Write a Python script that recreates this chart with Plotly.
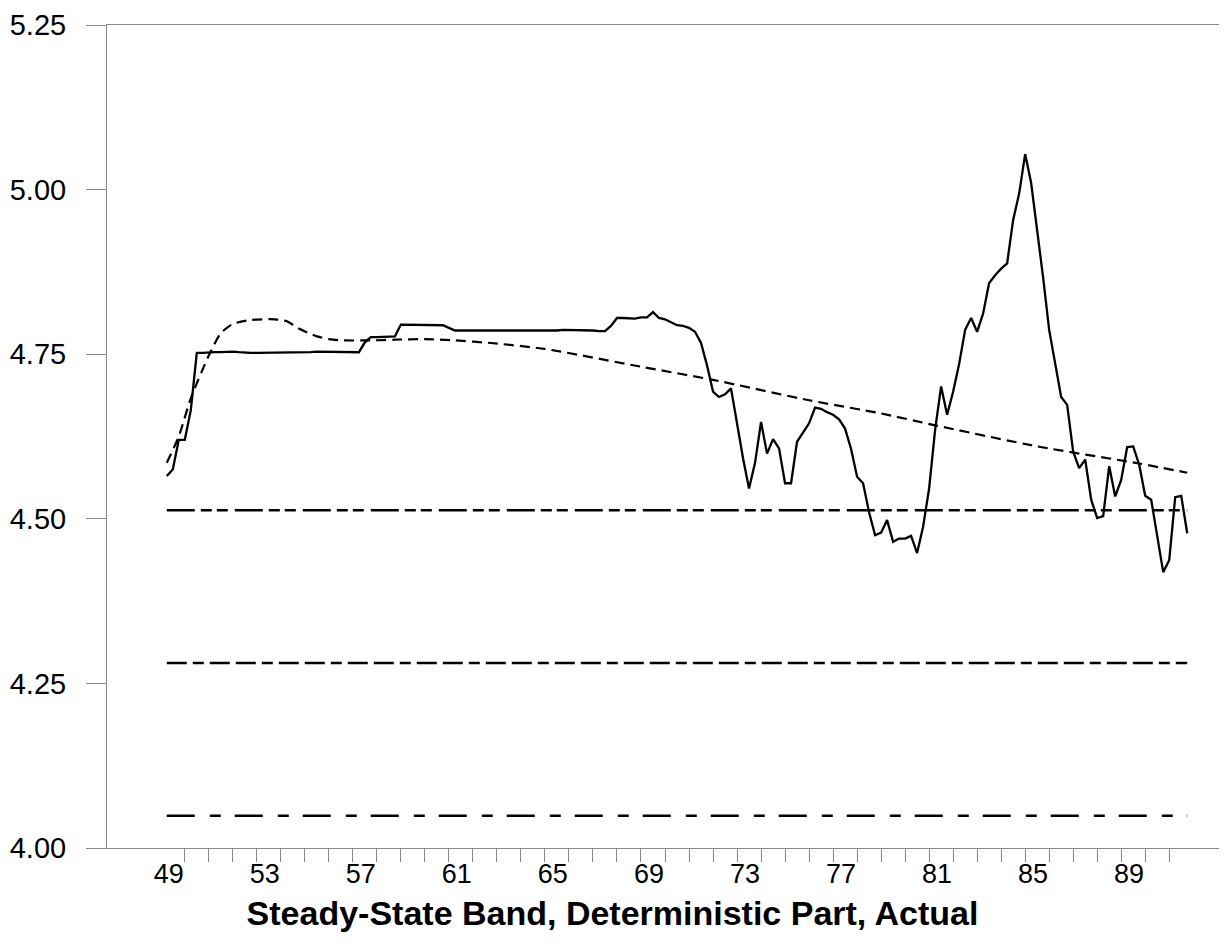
import numpy as np
import plotly.graph_objects as go

# ---- data ----
start_year = 1949.25          # first quarter shown (1949 Q2)
actual = [
    4.565, 4.575, 4.620,
    4.620, 4.665, 4.752, 4.752,
    4.753, 4.753, 4.753, 4.754,
    4.754, 4.753, 4.752, 4.752,
    4.752, 4.752, 4.752, 4.752,
    4.752, 4.752, 4.752, 4.752,
    4.753, 4.753, 4.754, 4.754,
    4.753, 4.753, 4.753, 4.753,
    4.753, 4.753, 4.768, 4.776,
    4.776, 4.776, 4.776, 4.777,
    4.795, 4.795, 4.795, 4.795,
    4.795, 4.795, 4.794, 4.794,
    4.790, 4.786, 4.786, 4.786,
    4.786, 4.786, 4.786, 4.786,
    4.786, 4.786, 4.786, 4.785,
    4.785, 4.785, 4.785, 4.785,
    4.786, 4.786, 4.786, 4.787,
    4.787, 4.787, 4.787, 4.786,
    4.786, 4.785, 4.785, 4.793,
    4.805, 4.805, 4.805, 4.804,
    4.806, 4.806, 4.814, 4.805,
    4.803, 4.799, 4.794, 4.793,
    4.790, 4.784, 4.767, 4.733,
    4.693, 4.685, 4.689, 4.698,
    4.645, 4.592, 4.546, 4.585,
    4.647, 4.599, 4.621, 4.607,
    4.554, 4.554, 4.617, 4.632,
    4.645, 4.669, 4.667, 4.662,
    4.658, 4.651, 4.637, 4.606,
    4.564, 4.554, 4.510, 4.475,
    4.479, 4.498, 4.465, 4.470,
    4.470, 4.474, 4.448, 4.488,
    4.546, 4.635, 4.701, 4.658,
    4.693, 4.735, 4.787, 4.805,
    4.784, 4.812, 4.858, 4.870,
    4.880, 4.888, 4.954, 4.994,
    5.054, 5.010, 4.940, 4.866,
    4.787, 4.736, 4.685, 4.673,
    4.602, 4.577, 4.590, 4.529,
    4.501, 4.504, 4.580, 4.534,
    4.559, 4.609, 4.610, 4.582,
    4.535, 4.529, 4.473, 4.419,
    4.437, 4.533, 4.535, 4.478,
]

trend_dates = [1949.25, 1949.75, 1950.25, 1951.0, 1951.5, 1952.0, 1952.75, 1953.75,
               1954.25, 1954.75, 1955.5, 1956.0, 1956.5, 1957.75, 1958.75, 1960.0,
               1961.25, 1962.75, 1965.0, 1969.0, 1972.0, 1976.0, 1979.0, 1981.25,
               1985.5, 1989.75, 1991.75]
trend_values = [4.585, 4.625, 4.683, 4.748, 4.782, 4.796, 4.802, 4.803,
                4.800, 4.789, 4.777, 4.773, 4.771, 4.771, 4.772, 4.773,
                4.771, 4.767, 4.758, 4.731, 4.711, 4.680, 4.660, 4.642,
                4.610, 4.584, 4.570]

band_upper = 4.513
band_center = 4.281
band_lower = 4.049

tick_years = list(range(1950, 1992))
label_years = [49, 53, 57, 61, 65, 69, 73, 77, 81, 85, 89]
y_ticks = [4.00, 4.25, 4.50, 4.75, 5.00, 5.25]

# ---- figure ----
dates = start_year + 0.25 * np.arange(len(actual))
band_x = [dates[0], dates[-1]]

AX = "#8a8a8a"
FONT = "Liberation Sans, Arial, Helvetica, sans-serif"

fig = go.Figure()
fig.add_trace(go.Scatter(x=band_x, y=[band_upper, band_upper], mode="lines",
                         line=dict(color="black", width=2.3, dash="28px,6px,11px,5px,11px,7px"),
                         showlegend=False, hoverinfo="skip"))
fig.add_trace(go.Scatter(x=band_x, y=[band_center, band_center], mode="lines",
                         line=dict(color="black", width=2.3, dash="20px,6px,11px,6px,20px,6px"),
                         showlegend=False, hoverinfo="skip"))
fig.add_trace(go.Scatter(x=band_x, y=[band_lower, band_lower], mode="lines",
                         line=dict(color="black", width=2.3, dash="28px,15px,11px,14px"),
                         showlegend=False, hoverinfo="skip"))
fig.add_trace(go.Scatter(x=trend_dates, y=trend_values, mode="lines",
                         line=dict(color="black", width=2.2, dash="10px,6px", shape="spline", smoothing=0.6),
                         showlegend=False))
fig.add_trace(go.Scatter(x=dates, y=actual, mode="lines",
                         line=dict(color="black", width=2.3),
                         showlegend=False))

fig.update_layout(
    width=1227, height=944, autosize=False,
    margin=dict(l=99, r=0, t=17, b=104),
    paper_bgcolor="white", plot_bgcolor="white",
    font=dict(family=FONT, color="black"),
    title=dict(text="<b>Steady-State Band, Deterministic Part, Actual</b>",
               font=dict(family=FONT, size=34, color="black"),
               x=(612.5 - 8) / 1227, xref="container", xanchor="center",
               y=1 - (913 - 8) / 944, yref="container", yanchor="middle"),
    xaxis=dict(range=[1946.76, 1993.74],
               tickmode="array",
               tickvals=[1900 + y + 0.33 for y in label_years],
               ticktext=[str(y) for y in label_years],
               ticks="", ticklabelstandoff=2,
               tickfont=dict(family=FONT, size=27, color="black"),
               showline=True, linecolor=AX, linewidth=1, mirror=True,
               showgrid=False, zeroline=False, automargin=False,
               minor=dict(tickmode="array", tickvals=tick_years, ticks="outside",
                          ticklen=13, tickcolor=AX, tickwidth=1, showgrid=False)),
    yaxis=dict(range=[4.0, 5.25],
               tickmode="array", tickvals=y_ticks,
               ticktext=[f"{v:.2f}" for v in y_ticks],
               ticks="outside", ticklen=20, tickcolor=AX, tickwidth=1,
               ticklabelstandoff=14, automargin=False,
               tickfont=dict(family=FONT, size=29, color="black"),
               showline=True, linecolor=AX, linewidth=1,
               showgrid=False, zeroline=False),
)

fig.write_html("out.html")
